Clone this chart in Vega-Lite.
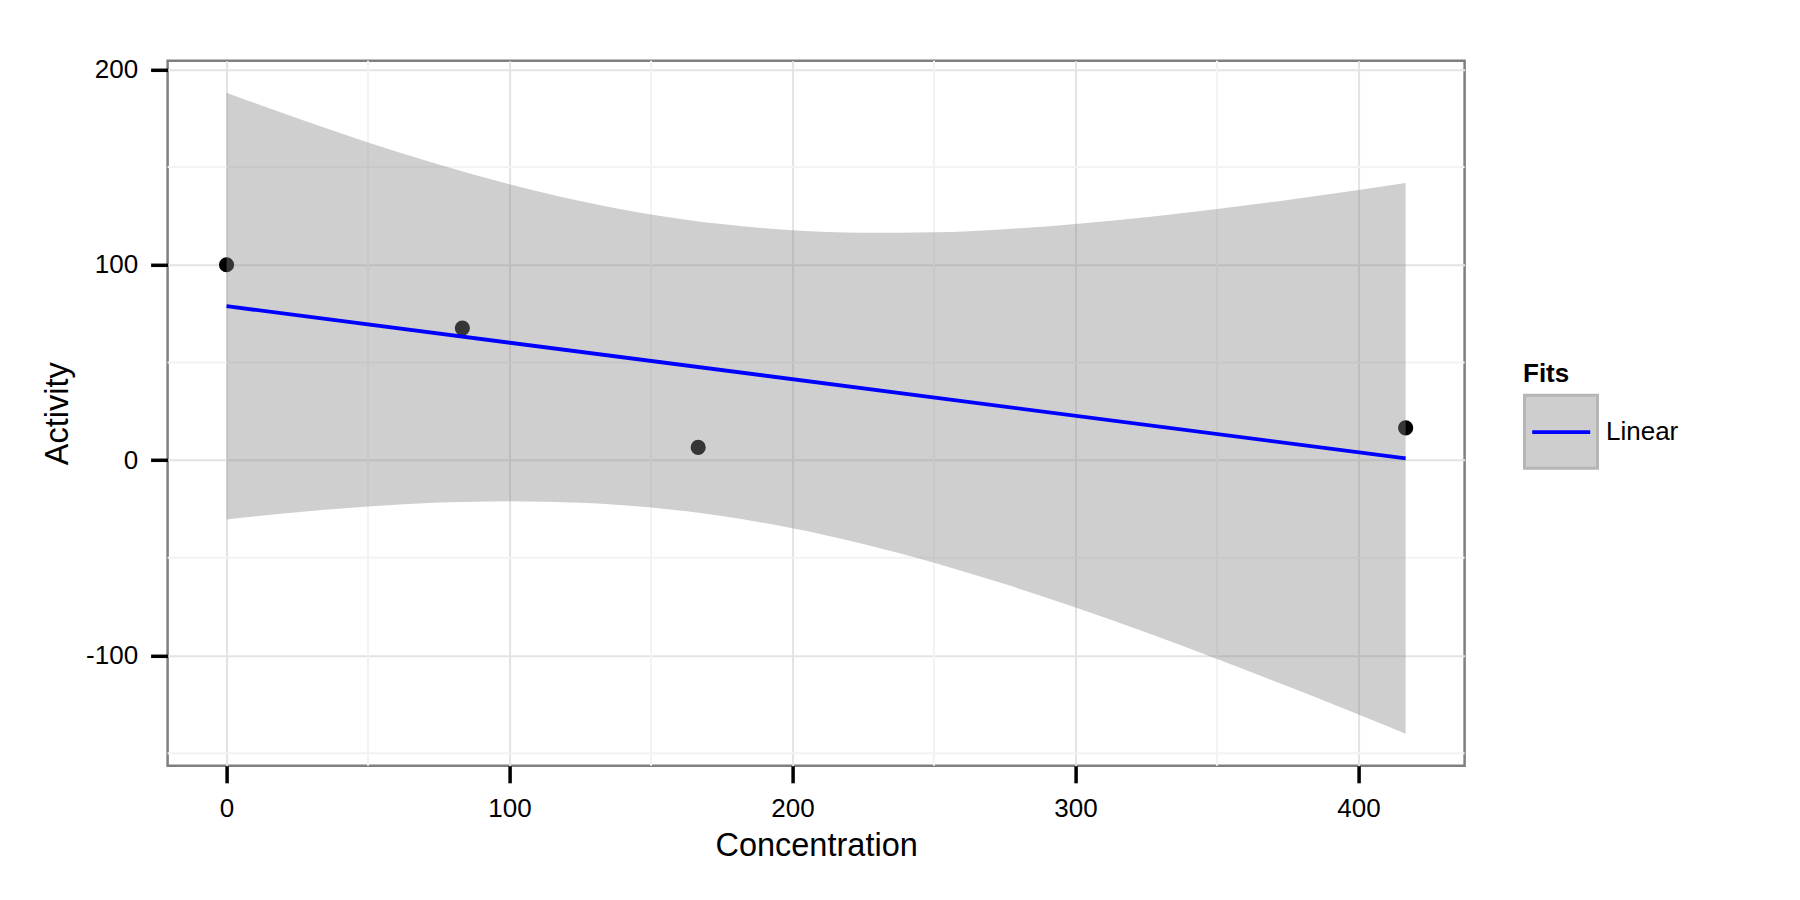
{
  "$schema": "https://vega.github.io/schema/vega-lite/v6.json",
  "width": 1297,
  "height": 705,
  "autosize": {"type": "none"},
  "padding": {"left": 167.6, "top": 60.8, "right": 335.4, "bottom": 134.2},
  "background": "white",
  "datasets": {
    "points": [
      {"Concentration": 0, "Activity": 100},
      {"Concentration": 83.33, "Activity": 67.6},
      {"Concentration": 166.67, "Activity": 6.5},
      {"Concentration": 416.67, "Activity": 16.5}
    ],
    "band": [
      {"Concentration": 0, "lower": -30.38, "upper": 187.99, "Band": "Linear"},
      {"Concentration": 25, "lower": -26.65, "upper": 174.93, "Band": "Linear"},
      {"Concentration": 50, "lower": -23.70, "upper": 162.62, "Band": "Linear"},
      {"Concentration": 75, "lower": -21.74, "upper": 151.32, "Band": "Linear"},
      {"Concentration": 100, "lower": -21.00, "upper": 141.24, "Band": "Linear"},
      {"Concentration": 125, "lower": -21.77, "upper": 132.65, "Band": "Linear"},
      {"Concentration": 150, "lower": -24.24, "upper": 125.78, "Band": "Linear"},
      {"Concentration": 175, "lower": -28.60, "upper": 120.80, "Band": "Linear"},
      {"Concentration": 200, "lower": -34.86, "upper": 117.70, "Band": "Linear"},
      {"Concentration": 225, "lower": -42.89, "upper": 116.39, "Band": "Linear"},
      {"Concentration": 250, "lower": -52.50, "upper": 116.66, "Band": "Linear"},
      {"Concentration": 275, "lower": -63.43, "upper": 118.23, "Band": "Linear"},
      {"Concentration": 300, "lower": -75.42, "upper": 120.88, "Band": "Linear"},
      {"Concentration": 325, "lower": -88.25, "upper": 124.37, "Band": "Linear"},
      {"Concentration": 350, "lower": -101.76, "upper": 128.52, "Band": "Linear"},
      {"Concentration": 375, "lower": -115.78, "upper": 133.20, "Band": "Linear"},
      {"Concentration": 400, "lower": -130.23, "upper": 138.29, "Band": "Linear"},
      {"Concentration": 416.67, "lower": -140.04, "upper": 141.88, "Band": "Linear"}
    ],
    "fit": [
      {"Concentration": 0, "Activity": 78.81, "Fits": "Linear"},
      {"Concentration": 416.67, "Activity": 0.92, "Fits": "Linear"}
    ],
    "minorX": [{"v": 50}, {"v": 150}, {"v": 250}, {"v": 350}],
    "minorY": [{"v": -150}, {"v": -50}, {"v": 50}, {"v": 150}]
  },
  "layer": [
    {
      "data": {"name": "minorX"},
      "mark": {"type": "rule", "color": "#f3f3f3", "strokeWidth": 2},
      "encoding": {
        "x": {"field": "v", "type": "quantitative", "scale": {"domain": [-20.83, 437.5], "nice": false, "zero": false}}
      }
    },
    {
      "data": {"name": "minorY"},
      "mark": {"type": "rule", "color": "#f3f3f3", "strokeWidth": 2},
      "encoding": {
        "y": {"field": "v", "type": "quantitative", "scale": {"domain": [-156.44, 204.39], "nice": false, "zero": false}}
      }
    },
    {
      "data": {"name": "points"},
      "mark": {"type": "circle", "size": 230, "color": "black", "opacity": 1},
      "encoding": {
        "x": {"field": "Concentration", "type": "quantitative", "scale": {"domain": [-20.83, 437.5], "nice": false, "zero": false},
              "axis": {"values": [0, 100, 200, 300, 400], "title": "Concentration", "labelExpr": "'' + datum.value"}},
        "y": {"field": "Activity", "type": "quantitative", "scale": {"domain": [-156.44, 204.39], "nice": false, "zero": false},
              "axis": {"values": [-100, 0, 100, 200], "title": "Activity", "labelExpr": "'' + datum.value"}}
      }
    },
    {
      "data": {"name": "band"},
      "mark": {"type": "area", "opacity": 0.4, "interpolate": "monotone"},
      "encoding": {
        "x": {"field": "Concentration", "type": "quantitative"},
        "y": {"field": "lower", "type": "quantitative"},
        "y2": {"field": "upper"},
        "fill": {"field": "Band", "type": "nominal", "scale": {"range": ["#878787"]},
          "legend": {
            "title": "Fits", "orient": "none", "legendX": 1355.4, "legendY": 300,
            "symbolType": "square", "symbolSize": 5329, "symbolStrokeWidth": 3,
            "symbolStrokeColor": "#4a4a4a", "symbolOpacity": 0.4,
            "titleFontSize": 26, "titleFontWeight": "bold", "titleColor": "black", "titlePadding": 7,
            "labelFontSize": 26, "labelColor": "black", "labelOffset": 7,
            "zindex": 1
          }
        }
      }
    },
    {
      "data": {"name": "fit"},
      "mark": {"type": "line", "strokeWidth": 3.8},
      "encoding": {
        "x": {"field": "Concentration", "type": "quantitative"},
        "y": {"field": "Activity", "type": "quantitative"},
        "stroke": {"field": "Fits", "type": "nominal", "scale": {"range": ["#0000ff"]},
          "legend": {
            "title": null, "orient": "none", "legendX": 1362.6, "legendY": 340.4,
            "symbolType": "stroke", "symbolSize": 3364, "symbolStrokeWidth": 3.8, "symbolOpacity": 1,
            "labelExpr": "''", "labelFontSize": 26, "zindex": 2
          }
        }
      }
    }
  ],
  "config": {
    "font": "Liberation Sans",
    "view": {"stroke": "#7f7f7f", "strokeWidth": 2.5},
    "axis": {
      "domain": false,
      "grid": true,
      "gridColor": "#e3e3e3",
      "gridWidth": 2,
      "tickColor": "black",
      "tickWidth": 3.5,
      "tickSize": 17,
      "labelFontSize": 26,
      "labelColor": "black",
      "labelPadding": 13,
      "titleFontSize": 32.5,
      "titleFontWeight": "normal",
      "titleColor": "black"
    },
    "axisX": {"titlePadding": 8},
    "axisY": {"titlePadding": 11}
  }
}
